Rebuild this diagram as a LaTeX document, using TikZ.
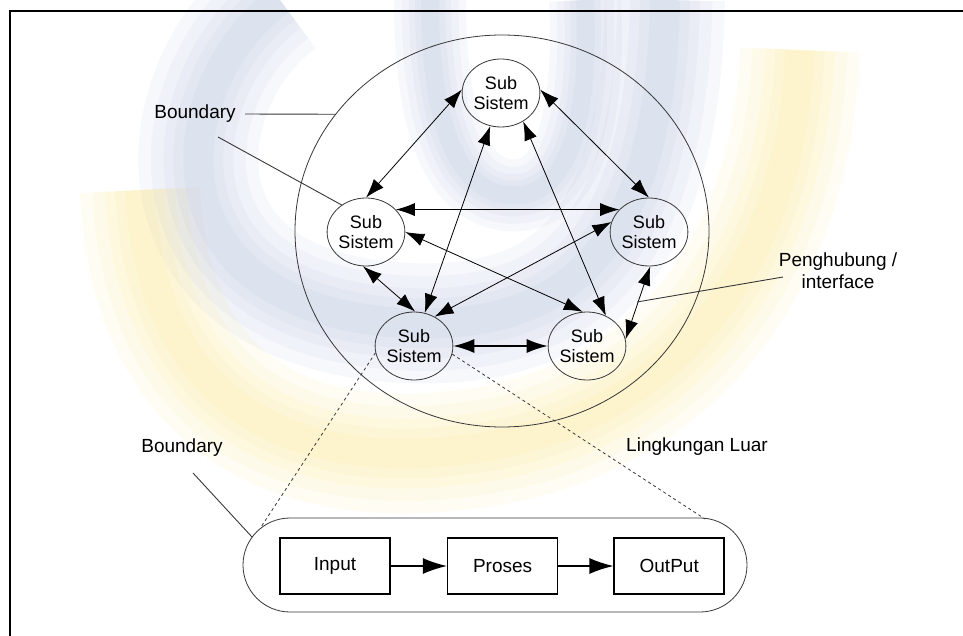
\documentclass[tikz,border=0pt]{standalone}
\usepackage{fontspec}
\setmainfont{Liberation Sans}
\usetikzlibrary{arrows.meta}
\usetikzlibrary{positioning}
\usetikzlibrary{shapes.geometric}
\definecolor{wm-blue}{RGB}{165,177,212}
\definecolor{wm-yellow}{RGB}{250,226,125}
\definecolor{line-grey}{RGB}{55,55,55}

\begin{document}
\begin{tikzpicture}[%
            x=1pt,y=-1pt,
            >={Latex[length=19pt,width=13pt]},
            sub/.style={ellipse,draw=line-grey,line width=0.8pt,
              minimum width=74pt,minimum height=68pt,inner sep=0pt,
              align=center,font=\fontsize{18}{20}\selectfont},
            link/.style={<->,line width=0.8pt},
            block/.style={draw,line width=1.6pt,minimum width=110pt,
              minimum height=56pt,font=\fontsize{19}{21}\selectfont},
            tag/.style={align=center,font=\fontsize{19}{22}\selectfont},
            pointer/.style={line-grey,line width=0.9pt},
            zoomline/.style={line-grey,line width=0.8pt,dash pattern=on 3pt off 3pt}
          ]
            \useasboundingbox (0,0) rectangle (963,636);

            % watermark behind the diagram
            \foreach \w in {120,95,70,50,30} {%
              \draw [wm-yellow,line width=\w,opacity=0.09]
                (140,190) .. controls (150,410) and (300,470) .. (460,450)
                .. controls (640,432) and (790,300) .. (800,50);
              \draw [wm-blue,line width=\w,opacity=0.09]
                (280,0) .. controls (170,80) and (140,300) .. (390,322)
                .. controls (560,335) and (660,260) .. (665,0);
              \draw [wm-blue,line width=0.6*\w,opacity=0.09]
                (430,0) .. controls (430,150) and (470,200) .. (520,195)
                .. controls (575,190) and (590,100) .. (585,0);
            }

            \draw [line width=1.5pt] (963,11) -- (10,11) -- (10,636);

            % system with its sub systems
            \node [ellipse,draw=line-grey,line width=0.8pt,minimum width=414pt,
              minimum height=392pt] (system) at (502,231) {};
            \node [sub] (topsub) at (501,93) {Sub\\Sistem};
            \node [sub] (leftsub) at (366,232) {Sub\\Sistem};
            \node [sub] (rightsub) at (649,232) {Sub\\Sistem};
            \node [sub] (lowleftsub) at (414,346) {Sub\\Sistem};
            \node [sub] (lowrightsub) at (587,346) {Sub\\Sistem};

            \draw [link] (topsub.175) -- (leftsub.90);
            \draw [link] (topsub.5) -- (rightsub.90);
            \draw [link] (topsub.252) -- (lowleftsub.72);
            \draw [link] (topsub.308) -- (lowrightsub.58);
            \draw [link] (leftsub.37) -- (rightsub.143);
            \draw [link] (leftsub.0) -- (lowrightsub.97);
            \draw [link] (rightsub.165) -- (lowleftsub.55);
            \draw [link] (leftsub.265) -- (lowleftsub.88);
            \draw [link] (rightsub.272) -- (lowrightsub.10);
            \draw [link,line width=1.6pt,>={Latex[length=21pt,width=14pt]}]
              (lowleftsub.east) -- (lowrightsub.west);

            % labels
            \node [tag] (boundarytop) at (195,114) {Boundary};
            \coordinate (boundarytail) at (218,137);
            \draw [pointer,shorten <=6pt] (boundarytop.east) -- (system.145);
            \draw [pointer] (boundarytail) -- (leftsub.132);

            \node [tag] (interface) at (838,271) {Penghubung /\\interface};
            \coordinate (interfacetail) at (783,277);
            \coordinate (interfacetip) at (637,302);
            \draw [pointer] (interfacetail) -- (interfacetip);

            \node [tag] (boundarylow) at (182,448) {Boundary};
            \coordinate (boundarylowtail) at (193,473);
            \coordinate (processcorner) at (252,537);
            \draw [pointer] (boundarylowtail) -- (processcorner);

            \node [tag] (environment) at (697,447) {Lingkungan Luar};

            % zoom on one sub system
            \node [draw=line-grey,line width=0.8pt,rounded corners=47pt,
              minimum width=504pt,minimum height=94pt] (process) at (495,565) {};
            \node [block] (input) at (335,566) {Input};
            \node [block,right=56pt of input] (proses) {Proses};
            \node [block,right=55pt of proses] (output) {OutPut};
            \draw [->,line width=1.2pt,>={Latex[length=24pt,width=16pt]}] (input) -- (proses);
            \draw [->,line width=1.2pt,>={Latex[length=24pt,width=16pt]}] (proses) -- (output);

            \coordinate (zoomleft) at (261,527);
            \coordinate (zoomright) at (705,519);
            \draw [zoomline] (lowleftsub.190) -- (zoomleft);
            \draw [zoomline] (lowleftsub.-12) -- (zoomright);
          \end{tikzpicture}
\end{document}
